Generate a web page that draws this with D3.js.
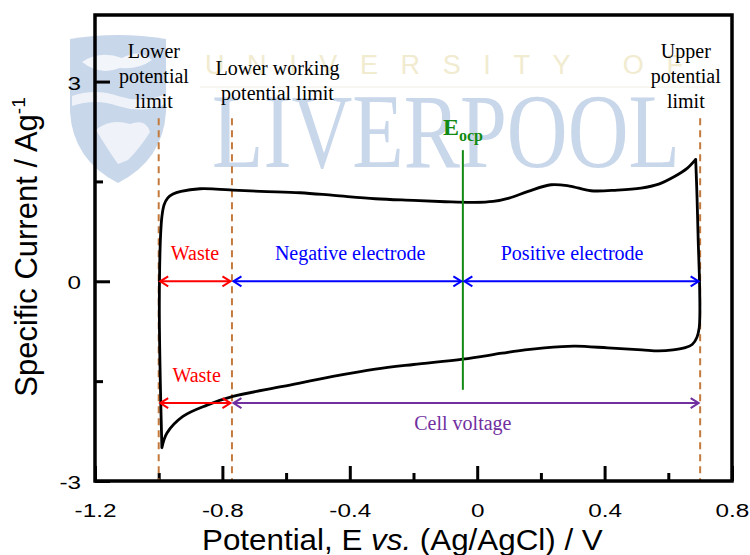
<!DOCTYPE html>
<html>
<head>
<meta charset="utf-8">
<script src="https://cdn.jsdelivr.net/npm/d3@7"></script>
<style>
  html, body { margin: 0; padding: 0; background: #fff; }
  svg { display: block; }
</style>
</head>
<body>
<svg id="chart" width="750" height="555"></svg>
<script>
// ---------------- DATA ----------------
const xDomain = [-1.2, 0.8];
const yDomain = [-3, 4];
const xMajorTicks = [-1.2, -0.8, -0.4, 0, 0.4, 0.8];
const xTickLabels = ["-1.2", "-0.8", "-0.4", "0", "0.4", "0.8"];
const xMinorTicks = [-1.0, -0.6, -0.2, 0.2, 0.6];
const yMajorTicks = [-3, 0, 3];
const yTickLabels = ["-3", "0", "3"];
const yMinorTicks = [-1.5, 1.5];

// CV curve: anodic (upper) branch, from the cathodic minimum up to the anodic peak
const upperBranchE = [-0.990, -0.995, -0.998, -0.997, -0.994, -0.990, -0.983, -0.972, -0.955, -0.930, -0.870, -0.820, -0.767, -0.680, -0.556, -0.450, -0.320, -0.200, -0.100, -0.010, 0.050, 0.100, 0.160, 0.232, 0.290, 0.357, 0.440, 0.514, 0.570, 0.618, 0.660, 0.686];
const upperBranchI = [-2.50, -1.50, -0.50, 0.20, 0.70, 0.97, 1.15, 1.25, 1.31, 1.35, 1.39, 1.385, 1.37, 1.35, 1.33, 1.29, 1.24, 1.215, 1.195, 1.185, 1.20, 1.25, 1.35, 1.45, 1.43, 1.36, 1.37, 1.40, 1.46, 1.57, 1.70, 1.83];
// cathodic (lower) branch, from the anodic peak back to the minimum
const lowerBranchE = [0.686, 0.690, 0.694, 0.698, 0.699, 0.697, 0.690, 0.675, 0.650, 0.615, 0.570, 0.517, 0.410, 0.310, 0.266, 0.150, 0.078, -0.045, -0.200, -0.320, -0.453, -0.610, -0.767, -0.848, -0.924, -0.974, -0.990];
const lowerBranchI = [1.83, 1.30, 0.60, 0.00, -0.50, -0.70, -0.84, -0.95, -1.00, -1.03, -1.045, -1.03, -1.00, -0.975, -0.98, -1.03, -1.08, -1.17, -1.25, -1.32, -1.43, -1.58, -1.73, -1.86, -2.03, -2.28, -2.50];

// potential markers
const lowerLimit = -1.0;
const lowerWorkingLimit = -0.77;
const upperLimit = 0.70;
const eOcp = -0.045;
const limitLineTop = 2.45;
const eOcpRange = [-1.63, 1.97];

// double arrows: [from, to, current level]
const arrowFrom  = [-1.0, -0.77, -0.045, -1.0, -0.77];
const arrowTo    = [-0.77, -0.045, 0.70, -0.77, 0.70];
const arrowLevel = [0, 0, 0, -1.83, -1.83];
const arrowLabels = ["Waste", "Negative electrode", "Positive electrode", "Waste", "Cell voltage"];
const arrowLabelE = [-0.886, -0.399, 0.298, -0.881, -0.045];
const arrowLabelI = [0.32, 0.32, 0.32, -1.51, -2.23];
const arrowColors = ["#ff0000", "#0000ff", "#0000ff", "#ff0000", "#7030a0"];

// ---------------- CHART ----------------
const svg = d3.select("#chart");
const x = d3.scaleLinear().domain(xDomain).range([95, 732]);
const y = d3.scaleLinear().domain(yDomain).range([481, 15]);

// ---- watermark (University of Liverpool) ----
const wm = svg.append("g").attr("class", "watermark");
wm.append("path")
  .attr("d", "M70,39 Q118,31 166,39 L166,112 Q163,160 118,183 Q73,160 70,112 Z")
  .attr("fill", "#c9d7eb");
// stylised white birds / band inside shield
wm.append("path").attr("d", "M82,62 Q100,50 122,58 Q140,48 152,60 Q138,70 120,68 Q100,76 82,62 Z").attr("fill", "#fff").attr("opacity", 0.75);
wm.append("path").attr("d", "M72,96 Q95,88 118,96 Q142,104 166,94 L166,104 Q142,114 118,106 Q95,98 72,106 Z").attr("fill", "#fff").attr("opacity", 0.7);
wm.append("path").attr("d", "M96,130 Q110,118 130,124 Q146,118 150,132 Q140,148 128,160 L118,164 Q108,150 96,130 Z").attr("fill", "#fff").attr("opacity", 0.7);
wm.append("text")
  .attr("x", 205).attr("y", 74)
  .attr("font-family", "'Liberation Sans', Arial, sans-serif")
  .attr("font-size", 27)
  .attr("fill", "#f1ebd0")
  .attr("textLength", 478)
  .attr("lengthAdjust", "spacing")
  .text("UNIVERSITY OF");
wm.append("line").attr("x1", 200).attr("x2", 705).attr("y1", 87).attr("y2", 87)
  .attr("stroke", "#f1eee2").attr("stroke-width", 1);
wm.append("text")
  .attr("x", 212).attr("y", 167)
  .attr("font-family", "'Liberation Serif', 'Times New Roman', serif")
  .attr("font-size", 106)
  .attr("fill", "#c9d7eb")
  .attr("textLength", 468)
  .attr("lengthAdjust", "spacingAndGlyphs")
  .text("LIVERPOOL");

// ---- axes ----
const axisFont = "'Liberation Sans', Arial, Helvetica, sans-serif";
function styleAxis(g) {
  g.select(".domain").remove();
  g.selectAll(".tick line").attr("stroke", "#000").attr("stroke-width", 3);
  g.selectAll(".tick text").attr("font-family", axisFont).attr("font-size", 18).attr("fill", "#000");
}
const gxMinor = svg.append("g").attr("transform", `translate(0,${y(-3)})`)
  .call(d3.axisBottom(x).tickValues(xMinorTicks).tickSize(-8).tickFormat(""));
styleAxis(gxMinor);
const gx = svg.append("g").attr("transform", `translate(0,${y(-3)})`)
  .call(d3.axisBottom(x).tickValues(xMajorTicks).tickSize(-15).tickPadding(23)
    .tickFormat((d, i) => xTickLabels[i]));
styleAxis(gx);
gx.selectAll(".tick text").attr("transform", "scale(1.35,1)");

const gyMinor = svg.append("g").attr("transform", `translate(${x(-1.2)},0)`)
  .call(d3.axisLeft(y).tickValues(yMinorTicks).tickSize(-8).tickFormat(""));
styleAxis(gyMinor);
const gy = svg.append("g").attr("transform", `translate(${x(-1.2)},0)`)
  .call(d3.axisLeft(y).tickValues(yMajorTicks).tickSize(-15).tickPadding(14)
    .tickFormat((d, i) => yTickLabels[i]));
styleAxis(gy);
gy.selectAll(".tick text").attr("x", -14 / 1.35).attr("dy", "0.42em").attr("transform", "scale(1.35,1)");

// ---- limit dashed lines ----
const dashColor = "#c47a3c";
svg.append("g").selectAll("line")
  .data([lowerLimit, lowerWorkingLimit, upperLimit])
  .join("line")
  .attr("x1", d => x(d)).attr("x2", d => x(d))
  .attr("y1", y(limitLineTop)).attr("y2", y(-3))
  .attr("stroke", dashColor).attr("stroke-width", 2)
  .attr("stroke-dasharray", "7,5");

// ---- CV curve ----
const line = d3.line().x(d => x(d[0])).y(d => y(d[1])).curve(d3.curveCatmullRom.alpha(0.5));
const upper = upperBranchE.map((e, i) => [e, upperBranchI[i]]);
const lower = lowerBranchE.map((e, i) => [e, lowerBranchI[i]]);
svg.append("path")
  .attr("d", line(upper) + line(lower))
  .attr("fill", "none").attr("stroke", "#000").attr("stroke-width", 2.8)
  .attr("stroke-linejoin", "round").attr("stroke-linecap", "round");

// ---- Eocp line ----
const green = "#138a13";
svg.append("line")
  .attr("x1", x(eOcp)).attr("x2", x(eOcp))
  .attr("y1", y(eOcpRange[1])).attr("y2", y(eOcpRange[0]))
  .attr("stroke", green).attr("stroke-width", 2);
const eText = svg.append("text")
  .attr("x", 443).attr("y", 135)
  .attr("font-family", "'Liberation Serif', 'Times New Roman', serif")
  .attr("font-weight", "bold").attr("font-size", 24).attr("fill", green);
eText.append("tspan").text("E");
eText.append("tspan").attr("font-size", 16).attr("dy", 6).text("ocp");

// ---- double arrows ----
const serif = "'Liberation Serif', 'Times New Roman', serif";
const arrows = svg.append("g");
arrowFrom.forEach((f, i) => {
  const x1 = x(f) + 1.5, x2 = x(arrowTo[i]) - 1.5, yy = y(arrowLevel[i]);
  const c = arrowColors[i];
  const g = arrows.append("g").attr("stroke", c).attr("stroke-width", 2).attr("fill", "none");
  g.append("line").attr("x1", x1).attr("x2", x2).attr("y1", yy).attr("y2", yy);
  g.append("path").attr("d", `M${x1 + 8},${yy - 5} L${x1},${yy} L${x1 + 8},${yy + 5}`);
  g.append("path").attr("d", `M${x2 - 8},${yy - 5} L${x2},${yy} L${x2 - 8},${yy + 5}`);
  svg.append("text")
    .attr("x", x(arrowLabelE[i])).attr("y", y(arrowLabelI[i]))
    .attr("text-anchor", "middle")
    .attr("font-family", serif).attr("font-size", 20).attr("fill", c)
    .text(arrowLabels[i]);
});

// ---- top annotations ----
const notes = [
  { e: -1.015, lines: ["Lower", "potential", "limit"], top: 58 },
  { e: -0.627, lines: ["Lower working", "potential limit"], top: 75 },
  { e: 0.655, lines: ["Upper", "potential", "limit"], top: 58 }
];
notes.forEach(n => {
  const t = svg.append("text")
    .attr("text-anchor", "middle")
    .attr("font-family", serif).attr("font-size", 20).attr("fill", "#000");
  n.lines.forEach((l, j) => {
    t.append("tspan").attr("x", x(n.e)).attr("y", n.top + j * 25).text(l);
  });
});

// ---- frame ----
svg.append("rect")
  .attr("x", x(-1.2)).attr("y", y(4))
  .attr("width", x(0.8) - x(-1.2)).attr("height", y(-3) - y(4))
  .attr("fill", "none").attr("stroke", "#000").attr("stroke-width", 3.5);

// ---- axis titles ----
const xt = svg.append("text")
  .attr("font-family", axisFont).attr("font-size", 29).attr("fill", "#000");
xt.append("tspan").text("Potential, E ");
xt.append("tspan").attr("font-style", "italic").text("vs.");
xt.append("tspan").text(" (Ag/AgCl) / V");
const w = xt.node().getComputedTextLength();
xt.attr("transform", `translate(202,550) scale(${401 / w},1)`);

const yt = svg.append("text")
  .attr("transform", "translate(37,247) rotate(-90)")
  .attr("text-anchor", "middle")
  .attr("font-family", axisFont).attr("font-size", 31).attr("fill", "#000");
yt.append("tspan").text("Specific Current / Ag");
yt.append("tspan").attr("font-size", 19).attr("dy", -12).text("-1");
</script>
</body>
</html>
